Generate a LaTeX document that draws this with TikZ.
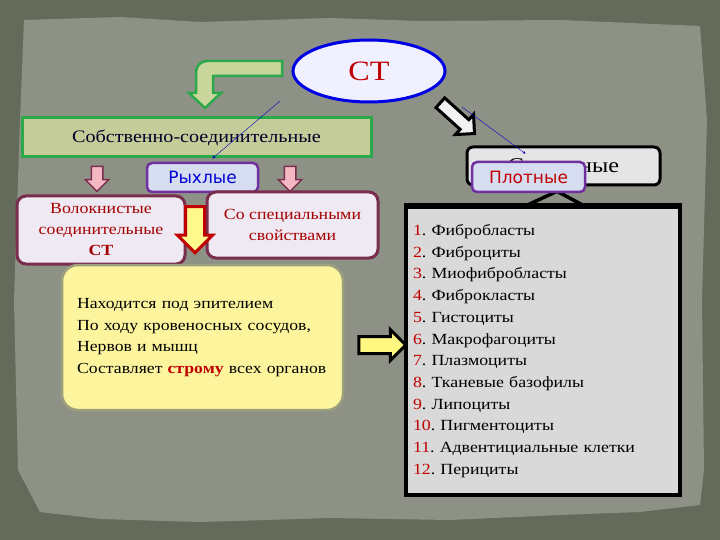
\documentclass[tikz,border=0pt]{standalone}
\usepackage{fontspec}
\setmainfont{Liberation Serif}[FakeStretch=1.15]
\setsansfont{DejaVu Sans}
\usepackage{tikz}
\usetikzlibrary{arrows,shapes.geometric,shapes.arrows,calc}

\definecolor{bgdark}{HTML}{656B5A}
\definecolor{paper}{HTML}{8E9286}
\definecolor{ctred}{HTML}{C00000}
\definecolor{leafgreen}{HTML}{2AA84A}
\definecolor{leaffill}{HTML}{C9D69B}
\definecolor{ownfill}{HTML}{C4CC99}
\definecolor{tagfill}{HTML}{D7DDF0}
\definecolor{tagline}{HTML}{7030A0}
\definecolor{kindfill}{HTML}{EFE9F3}
\definecolor{kindline}{HTML}{7A2E4E}
\definecolor{kindtext}{HTML}{A50000}
\definecolor{pinkfill}{HTML}{F4B8C4}
\definecolor{notefill}{HTML}{FDF59E}
\definecolor{noteline}{HTML}{9DA07C}

\begin{document}
\frenchspacing
\begin{tikzpicture}[x=1pt,y=-1pt,
  ct/.style={ellipse, draw=blue!90!black, line width=3pt, fill=blue!6,
    minimum width=152pt, minimum height=62pt, text=ctred,
    font=\fontsize{28}{30}\selectfont},
  ownbox/.style={draw=leafgreen, line width=3pt, fill=ownfill, minimum width=349pt,
    minimum height=39pt, text=black!85!blue, font=\fontsize{17.5}{20}\selectfont},
  hardbox/.style={draw=black, line width=3pt, fill=black!10, rounded corners=6pt,
    minimum width=193pt, minimum height=38pt, font=\fontsize{21}{24}\selectfont},
  tag/.style={draw=tagline, line width=2.5pt, fill=tagfill, rounded corners=5pt,
    font=\sffamily\fontsize{17}{20}\selectfont},
  kindbox/.style={draw=kindline, line width=3pt, fill=kindfill, rounded corners=9pt,
    text=kindtext, align=center, font=\fontsize{15.5}{21}\selectfont},
  notebox/.style={draw=noteline, line width=2.5pt, fill=notefill, rounded corners=16pt,
    minimum width=281pt, minimum height=145pt, text width=251pt, align=left,
    inner xsep=15pt, font=\fontsize{15.4}{21.7}\selectfont},
  listbox/.style={draw=black, line width=3.5pt, fill=black!15, minimum width=274pt,
    minimum height=288pt, text width=260pt, align=left, inner xsep=7pt,
    font=\fontsize{15.5}{21.7}\selectfont},
  blockdown/.style={single arrow, shape border rotate=270, minimum height=25pt,
    inner sep=5pt, single arrow head extend=6pt, draw=kindline, line width=1.5pt,
    fill=pinkfill},
  hint/.style={->, >=stealth, draw=blue!75!black, thin}]

\useasboundingbox (0,0) rectangle (720,540);
\fill[bgdark] (0,0) rectangle (720,540);
\fill[paper] (24,20) -- (120,17) -- (200,22) -- (330,18) -- (420,21) -- (560,20)
  -- (700,26) -- (707,120) -- (702,300) -- (704,470) -- (700,505) -- (640,512)
  -- (560,515) -- (450,520) -- (330,518) -- (200,522) -- (100,519) -- (40,512)
  -- (18,470) -- (14,300) -- (20,120) -- cycle;

\node[ct] (ct) at (369,71) {СТ};

% bent arrow to the left branch
\draw[draw=leafgreen, line width=2.5pt, fill=leaffill]
  (282,61) -- (207,61) to[out=180,in=90] (196,72) -- (196,93) -- (189,93)
  -- (205,108) -- (221,93) -- (213,93) -- (213,76) -- (282,76) -- cycle;

\node[ownbox] (own) at (196.5,137.5) {Собственно-соединительные};

\node[single arrow, draw=black, line width=3pt, fill=black!5, minimum height=46pt,
  inner sep=5pt, single arrow head extend=7pt, rotate=-42]
  (turn) at (455,116) {};

\node[hardbox] (skel) at (563.5,166) {Скелетные};

\coordinate (h1) at (280,101);
\coordinate (h2) at (462,107);
\draw[hint] (h1) -- ($(own.south west)!0.545!(own.south east)$);
\draw[hint] (h2) -- ($(skel.north west)!0.2!(skel.south west)+(60,0)$);

\node[listbox] (cells) at (543,351) {%
  \textcolor{ctred}{1}. Фибробласты\\
  \textcolor{ctred}{2}. Фиброциты\\
  \textcolor{ctred}{3}. Миофибробласты\\
  \textcolor{ctred}{4}. Фиброкласты\\
  \textcolor{ctred}{5}. Гистоциты\\
  \textcolor{ctred}{6}. Макрофагоциты\\
  \textcolor{ctred}{7}. Плазмоциты\\
  \textcolor{ctred}{8}. Тканевые базофилы\\
  \textcolor{ctred}{9}. Липоциты\\
  \textcolor{ctred}{10}. Пигментоциты\\
  \textcolor{ctred}{11}. Адвентициальные клетки\\
  \textcolor{ctred}{12}. Перициты};
\draw[line width=3.5pt] ($(cells.north)+(-16,0)$) -- ($(cells.north)+(14,-14)$)
  -- ($(cells.north)+(40,0)$);
\draw[line width=3.5pt] (cells.north west) -- (cells.north east);

\node[tag, text=ctred, minimum width=113pt, minimum height=30pt]
  (dense) at (528.5,177) {Плотные};

\node[blockdown] (pl) at (97,176) {};
\node[blockdown] (pr) at (290,176) {};
\node[tag, text=blue!85!black, minimum width=111pt, minimum height=29pt]
  (loose) at (202.5,177.5) {Рыхлые};

\node[kindbox, minimum width=168pt, minimum height=68pt] (fib) at (101,230)
  {Волокнистые\\соединительные\\\textbf{СТ}};
\node[kindbox, minimum width=171pt, minimum height=66pt] (spec) at (292.5,225)
  {Со специальными\\свойствами};

\node[single arrow, shape border rotate=270, draw=ctred, line width=3pt,
  fill=yellow!45, minimum height=46pt, inner sep=8pt, single arrow head extend=8pt]
  (down) at (195,225) {};

\node[notebox] (note) at (202.5,337.5) {%
  Находится под эпителием\\
  По ходу кровеносных сосудов,\\
  Нервов и мышц\\
  Составляет \textcolor{ctred}{\textbf{строму}} всех органов};

\node[single arrow, draw=black, line width=3pt, fill=yellow!50, minimum height=47pt,
  inner sep=7pt, single arrow head extend=7pt] (right) at (378,345) {};

\end{tikzpicture}
\end{document}
